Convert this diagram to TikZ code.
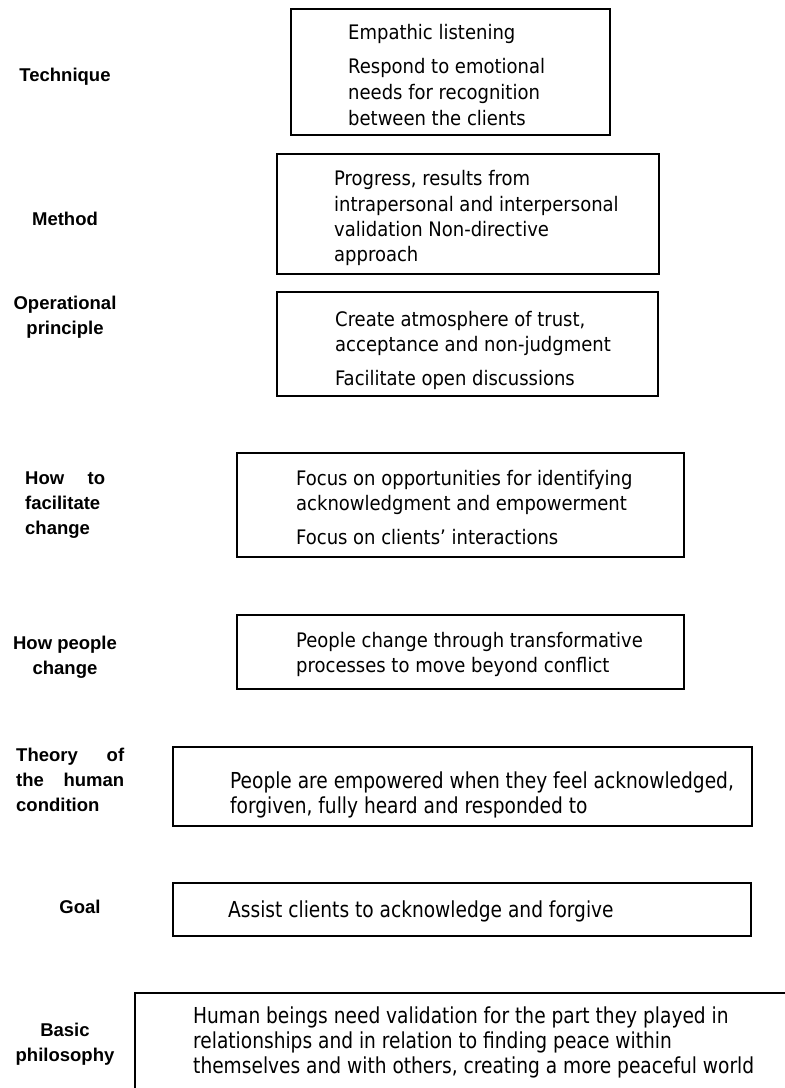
\documentclass[tikz,border=0pt]{standalone}
\usepackage{fontspec}
\setmainfont{DejaVu Sans Condensed}
\newfontfamily\labelfont{Liberation Sans}
\newfontfamily\narrowfont[FakeStretch=0.94]{DejaVu Sans Condensed}
\begin{document}
\begin{tikzpicture}[x=1pt,y=-1pt,
  body/.style={anchor=base west,inner sep=0pt,font=\fontsize{20}{26}\selectfont},
  bodyn/.style={anchor=base west,inner sep=0pt,font=\narrowfont\fontsize{22}{26}\selectfont},
  lab/.style={anchor=base,inner sep=0pt,font=\labelfont\bfseries\fontsize{18.5}{25}\selectfont},
  labl/.style={anchor=base west,inner sep=0pt,font=\labelfont\bfseries\fontsize{18.5}{25}\selectfont},
  frame/.style={draw=black,line width=#1}]
\useasboundingbox (0,0) rectangle (785,1088);

% frames, top to bottom
\draw[frame=2.3pt] (291,9) rectangle (610,135);
\draw[frame=2.5pt] (277,154) rectangle (659,274);
\draw[frame=1.2pt] (277,292) rectangle (658,396);
\draw[frame=2pt] (237,453) rectangle (684,557);
\draw[frame=2.5pt] (237,615) rectangle (684,689);
\draw[frame=1.6pt] (173,747) rectangle (752,826);
\draw[frame=1.6pt] (173,883) rectangle (751,936);
\draw[frame=1.3pt] (135,1088) |- (786,993);

% Technique
\node[lab] (lTech) at (65,81) {Technique};
\node[body] (t1) at (348,39) {Empathic listening};
\node[body] (t2) at (348,73) {Respond to emotional};
\node[body] (t3) at (348,99) {needs for recognition};
\node[body] (t4) at (348,125) {between the clients};

% Method
\node[lab] (lMeth) at (65,225) {Method};
\node[body] (m1) at (334,185) {Progress, results from};
\node[body] (m2) at (334,211) {intrapersonal and interpersonal};
\node[body] (m3) at (334,236) {validation Non-directive};
\node[body] (m4) at (334,261) {approach};

% Operational principle
\node[lab] (lOp1) at (65,309) {Operational};
\node[lab] (lOp2) at (65,334) {principle};
\node[body] (o1) at (335,326) {Create atmosphere of trust,};
\node[body] (o2) at (335,351) {acceptance and non-judgment};
\node[body] (o3) at (335,385) {Facilitate open discussions};

% How to facilitate change
\node[labl] (lHf1) at (25,484) {\makebox[80pt]{How\hfill to}};
\node[labl] (lHf2) at (25,509) {facilitate};
\node[labl] (lHf3) at (25,534) {change};
\node[body] (f1) at (296,485) {Focus on opportunities for identifying};
\node[body] (f2) at (296,510) {acknowledgment and empowerment};
\node[body] (f3) at (296,544) {Focus on clients’ interactions};

% How people change
\node[lab] (lHp1) at (65,649) {How people};
\node[lab] (lHp2) at (65,674) {change};
\node[body] (p1) at (296,647) {People change through transformative};
\node[body] (p2) at (296,672) {processes to move beyond conflict};

% Theory of the human condition
\node[labl] (lTh1) at (16,761) {\makebox[108pt]{Theory\hfill of}};
\node[labl] (lTh2) at (16,786) {\makebox[108pt]{the\hfill human}};
\node[labl] (lTh3) at (16,811) {condition};
\node[bodyn] (h1) at (230,788) {People are empowered when they feel acknowledged,};
\node[bodyn] (h2) at (230,813) {forgiven, fully heard and responded to};

% Goal
\node[lab] (lGoal) at (80,913) {Goal};
\node[bodyn] (g1) at (228,917) {Assist clients to acknowledge and forgive};

% Basic philosophy
\node[lab] (lBp1) at (65,1036) {Basic};
\node[lab] (lBp2) at (65,1061) {philosophy};
\node[bodyn] (b1) at (193,1023) {Human beings need validation for the part they played in};
\node[bodyn] (b2) at (193,1048) {relationships and in relation to finding peace within};
\node[bodyn] (b3) at (193,1073) {themselves and with others, creating a more peaceful world};
\end{tikzpicture}
\end{document}
